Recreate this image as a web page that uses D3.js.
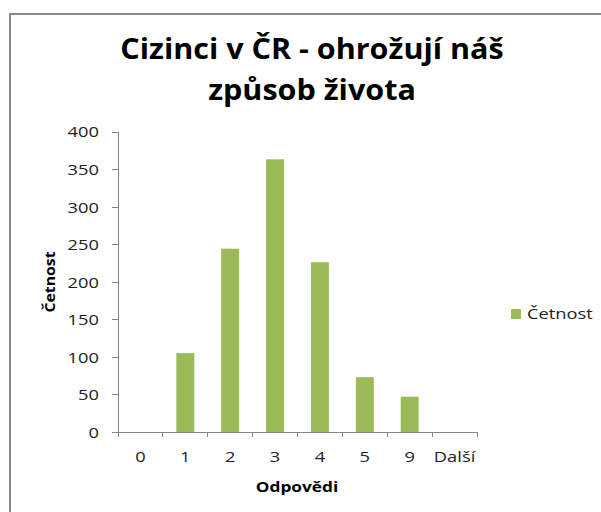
<!DOCTYPE html>
<html>
<head>
<meta charset="utf-8">
<script src="https://cdn.jsdelivr.net/npm/d3@7"></script>
<style>
  body { margin: 0; background: #fff; }
  svg { display: block; }
  .axis path, .axis line { stroke: #868686; shape-rendering: crispEdges; }
  .axis text { fill: #222; font-family: "Open Sans", sans-serif; font-size: 15px; }
</style>
</head>
<body>
<svg id="chart" width="601" height="512"></svg>
<script>
const categories = ["0", "1", "2", "3", "4", "5", "9", "Další"];
const counts = [0, 105, 244, 363, 226, 73, 47, 0];
const yTicks = [0, 50, 100, 150, 200, 250, 300, 350, 400];

const PLOT = { left: 118, right: 477, top: 131.5, bottom: 432 };
const BAR_COLOR = "#9BBB59";

const svg = d3.select("#chart");

// widen text horizontally, the source renders glyphs wider than our fonts
function widen(sel, k) {
  sel.each(function() {
    const len = this.getComputedTextLength();
    d3.select(this)
      .attr("textLength", len * k)
      .attr("lengthAdjust", "spacingAndGlyphs");
  });
}

// chart frame (only top and left edges are in view)
svg.append("rect")
  .attr("x", 10).attr("y", 14)
  .attr("width", 700).attr("height", 600)
  .attr("fill", "none")
  .attr("stroke", "#898989")
  .attr("stroke-width", 2);

const x = d3.scaleBand()
  .domain(categories)
  .range([PLOT.left, PLOT.right])
  .paddingInner(0.6)
  .paddingOuter(0.3);

const y = d3.scaleLinear()
  .domain([0, 400])
  .range([PLOT.bottom, PLOT.top]);

// bars
svg.append("g")
  .selectAll("rect")
  .data(categories.map((c, i) => ({ key: c, value: counts[i] })))
  .enter().append("rect")
  .attr("x", d => x(d.key))
  .attr("y", d => y(d.value))
  .attr("width", x.bandwidth())
  .attr("height", d => y(0) - y(d.value))
  .attr("fill", BAR_COLOR);

// y axis
const gy = svg.append("g")
  .attr("class", "axis")
  .attr("transform", "translate(" + PLOT.left + ",0)")
  .call(d3.axisLeft(y).tickValues(yTicks).tickSizeInner(6).tickSizeOuter(0).tickPadding(13));
gy.selectAll("text").attr("dy", "0.36em");
widen(gy.selectAll("text"), 1.22);

// x axis: line plus ticks on category boundaries, labels centered in cells
const gx = svg.append("g")
  .attr("class", "axis")
  .attr("transform", "translate(0," + PLOT.bottom + ")");
gx.append("line")
  .attr("x1", PLOT.left).attr("x2", PLOT.right)
  .attr("y1", 0.5).attr("y2", 0.5);
gx.selectAll("line.tick")
  .data(d3.range(categories.length + 1))
  .enter().append("line")
  .attr("class", "tick")
  .attr("x1", i => PLOT.left + i * x.step())
  .attr("x2", i => PLOT.left + i * x.step())
  .attr("y1", 0).attr("y2", 5);
const xLabels = gx.selectAll("text")
  .data(categories)
  .enter().append("text")
  .attr("x", d => x(d) + x.bandwidth() / 2)
  .attr("y", 30)
  .attr("text-anchor", "middle")
  .text(d => d);
widen(xLabels, 1.22);

// titles
const title = svg.append("text")
  .attr("text-anchor", "middle")
  .style("font-family", "'Open Sans', sans-serif")
  .style("font-weight", "bold")
  .style("font-size", "28px")
  .style("fill", "#000");
const t1 = title.append("tspan").attr("x", 312).attr("y", 59).text("Cizinci v ČR - ohrožují náš");
const t2 = title.append("tspan").attr("x", 312).attr("y", 100).text("způsob života");
widen(t1, 1.09);
widen(t2, 1.09);

const yTitle = svg.append("text")
  .attr("transform", "translate(55,282) rotate(-90)")
  .attr("text-anchor", "middle")
  .style("font-family", "'Open Sans', sans-serif")
  .style("font-weight", "bold")
  .style("font-size", "15px")
  .text("Četnost");
widen(yTitle, 1.05);

const xTitle = svg.append("text")
  .attr("x", 297).attr("y", 492)
  .attr("text-anchor", "middle")
  .style("font-family", "'Open Sans', sans-serif")
  .style("font-weight", "bold")
  .style("font-size", "15px")
  .text("Odpovědi");
widen(xTitle, 1.15);

// legend
const legend = svg.append("g").attr("transform", "translate(511,309)");
legend.append("rect").attr("width", 10).attr("height", 10).attr("fill", BAR_COLOR);
const legendText = legend.append("text")
  .attr("x", 16).attr("y", 10)
  .style("font-family", "'Open Sans', sans-serif")
  .style("font-size", "15px")
  .style("fill", "#222")
  .text("Četnost");
widen(legendText, 1.22);
</script>
</body>
</html>
